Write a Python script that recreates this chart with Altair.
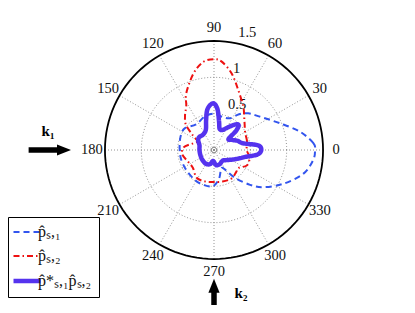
import altair as alt
import pandas as pd
import numpy as np

# ---------------- data (polar: angle in degrees, radius) ----------------
blue_theta = [0, 4, 12, 22, 36, 47, 55, 63, 75, 90, 105, 125, 143, 155, 170, 185, 197, 215,
              238, 253, 268, 280, 292, 300, 307, 316, 323, 334, 345, 354]
blue_r = [1.39, 1.37, 1.21, 0.98, 0.78, 0.69, 0.60, 0.49, 0.47, 0.50, 0.48, 0.43, 0.50, 0.50,
          0.48, 0.47, 0.47, 0.47, 0.49, 0.50, 0.50, 0.40, 0.27, 0.32, 0.48, 0.69, 0.85, 1.06,
          1.27, 1.37]

red_theta = [0, 15, 29, 40, 48, 56, 68, 77, 85, 90, 97, 105, 116, 122, 130, 138, 145, 152,
             162, 175, 188, 205, 220, 238, 255, 270, 285, 302, 315, 324, 335, 348]
red_r = [0.45, 0.47, 0.49, 0.55, 0.62, 0.72, 0.89, 1.08, 1.22, 1.25, 1.22, 1.09, 0.87, 0.72,
         0.62, 0.52, 0.36, 0.26, 0.30, 0.42, 0.44, 0.39, 0.38, 0.45, 0.45, 0.44, 0.45, 0.46,
         0.43, 0.42, 0.50, 0.50]

pur_theta = [0, 6, 13, 21, 30, 37, 41, 45, 50, 58, 67, 75, 80, 85, 90, 95, 100, 105, 112, 125,
             140, 150, 162, 180, 200, 220, 240, 255, 265, 278, 292, 310, 325, 338, 348, 354]
pur_r = [0.65, 0.61, 0.41, 0.35, 0.28, 0.25, 0.40, 0.48, 0.46, 0.37, 0.30, 0.30, 0.40, 0.56,
         0.64, 0.62, 0.55, 0.42, 0.30, 0.26, 0.27, 0.25, 0.21, 0.20, 0.20, 0.21, 0.22, 0.20,
         0.15, 0.21, 0.21, 0.19, 0.24, 0.33, 0.45, 0.60]

series_names = ["p\u0302\u209b,\u2081", "p\u0302\u209b,\u2082", "p\u0302*\u209b,\u2081p\u0302\u209b,\u2082"]
series_colors = ["#3355ee", "#ee1111", "#5533ee"]
series_dash = [[6, 4], [6, 3, 1.5, 3], [1, 0]]
thin_w, thick_w = 2, 4.5

angle_ticks = list(range(0, 360, 30))
angle_labels = [str(a) for a in angle_ticks]
ring_radii = [0.5, 1.0]
ring_labels = ["0.5", "1", "1.5"]
ring_label_r = [0.5, 1.0, 1.5]
rmax = 1.5

# arrows (polar positions of annotation arrows)
arrow_theta = [180, 270]
arrow_tail_r = [2.55, 2.14]
arrow_base_r = [2.14, 1.95]
arrow_head_r = [2.063, 1.866]
arrow_text = ["k\u2081", "k\u2082"]
arrow_text_x = [-2.283, 0.371]
arrow_text_y = [0.261, -1.967]

# ---------------- frame / scales ----------------
W, H = 399, 297
S = 72.7
cx, cy = 206, 142
XMIN, XMAX = -cx / S, (W - cx) / S
YMIN, YMAX = -(H - cy) / S, cy / S
FONT = "Liberation Serif"

xs = alt.Scale(domain=[XMIN, XMAX], nice=False, zero=False)
ys = alt.Scale(domain=[YMIN, YMAX], nice=False, zero=False)
X = alt.X("x:Q", scale=xs, axis=None)
Y = alt.Y("y:Q", scale=ys, axis=None)
XY = dict(x="datum.r*cos(datum.theta*PI/180)", y="datum.r*sin(datum.theta*PI/180)")

# curves
rows = []
for name, th, rr in [(series_names[0], blue_theta, blue_r),
                     (series_names[1], red_theta, red_r),
                     (series_names[2], pur_theta, pur_r)]:
    for i, (t, r) in enumerate(zip(th, rr)):
        rows.append({"series": name, "theta": t, "r": r, "idx": i})
curves = pd.DataFrame(rows)

# grid rings
circ_theta = np.arange(0, 361, 3)
grid_rows = []
for rr in ring_radii:
    for t in circ_theta:
        grid_rows.append({"ring": rr, "theta": float(t), "r": rr})
grid = pd.DataFrame(grid_rows)
outer = pd.DataFrame({"theta": circ_theta.astype(float), "r": rmax})
spokes = pd.DataFrame([{"a": a, "theta": a, "r": r} for a in angle_ticks for r in (0.0, rmax)])
alabels = pd.DataFrame({"theta": angle_ticks, "label": angle_labels, "r": 1.68})
rlabels = pd.DataFrame({"theta": 82, "label": ring_labels, "r": ring_label_r})

grid_layer = alt.Chart(grid).transform_calculate(**XY).mark_line(
    strokeDash=[1, 2], color="#888888", strokeWidth=0.9
).encode(x=X, y=Y, detail="ring:N", order="theta:Q")

spoke_layer = alt.Chart(spokes).transform_calculate(**XY).mark_line(
    strokeDash=[1, 2], color="#888888", strokeWidth=0.9
).encode(x=X, y=Y, detail="a:N", order="r:Q")

outer_layer = alt.Chart(outer).transform_calculate(**XY).mark_line(
    color="black", strokeWidth=1.8
).encode(x=X, y=Y, order="theta:Q")

alab_layer = alt.Chart(alabels).transform_calculate(**XY).mark_text(
    font=FONT, fontSize=14.5, color="#111111", align="center", baseline="middle"
).encode(x=X, y=Y, text="label:N")

rlab_layer = alt.Chart(rlabels).transform_calculate(**XY).mark_text(
    font=FONT, fontSize=14.5, color="#111111", align="left", baseline="middle", dx=9, dy=-9
).encode(x=X, y=Y, text="label:N")

center_layer = alt.Chart(pd.DataFrame({"theta": [0], "r": [0.0]})).transform_calculate(**XY).mark_point(
    shape="circle", size=28, filled=False, color="#444444", strokeWidth=0.8
).encode(x=X, y=Y)

thick_name = series_names[2]
leg = alt.Legend(title=None, orient="none", legendX=0, legendY=209, symbolType="stroke",
                 symbolSize=729, strokeColor="black", fillColor="white", padding=7,
                 labelFont=FONT, labelFontSize=16, labelColor="#111111", rowPadding=8,
                 labelLimit=200, symbolOffset=4, labelOffset=3,
                 symbolStrokeWidth=alt.ExprRef(
                     expr=f"datum.value == '{thick_name}' ? {thick_w} : {thin_w}"))

curve_layer = alt.Chart(curves).transform_calculate(**XY).mark_line(
    interpolate="cardinal-closed"
).encode(
    x=X, y=Y, order="idx:Q",
    color=alt.Color("series:N", scale=alt.Scale(domain=series_names, range=series_colors), legend=leg),
    strokeDash=alt.StrokeDash("series:N", scale=alt.Scale(domain=series_names, range=series_dash), legend=leg),
    strokeWidth=alt.condition(f"datum.series == '{thick_name}'", alt.value(thick_w), alt.value(thin_w)),
)

arrows = pd.DataFrame({"theta": arrow_theta, "r": arrow_tail_r, "r2": arrow_base_r, "rh": arrow_head_r})
shaft_layer = alt.Chart(arrows).transform_calculate(
    x="datum.r*cos(datum.theta*PI/180)", y="datum.r*sin(datum.theta*PI/180)",
    x2="datum.r2*cos(datum.theta*PI/180)", y2="datum.r2*sin(datum.theta*PI/180)"
).mark_rule(color="black", strokeWidth=5.5, strokeCap="butt").encode(
    x=X, y=Y, x2="x2:Q", y2="y2:Q")

head1 = alt.Chart(arrows.iloc[[0]]).transform_calculate(
    x="datum.rh*cos(datum.theta*PI/180)", y="datum.rh*sin(datum.theta*PI/180)"
).mark_point(shape="M-1,-0.8L1,0L-1,0.8Z", size=196, filled=True, color="black", opacity=1
).encode(x=X, y=Y)
head2 = alt.Chart(arrows.iloc[[1]]).transform_calculate(
    x="datum.rh*cos(datum.theta*PI/180)", y="datum.rh*sin(datum.theta*PI/180)"
).mark_point(shape="M-0.8,1L0,-1L0.8,1Z", size=196, filled=True, color="black", opacity=1
).encode(x=X, y=Y)

ktext = alt.Chart(pd.DataFrame({"x": arrow_text_x, "y": arrow_text_y, "label": arrow_text})).mark_text(
    font=FONT, fontSize=15, fontWeight="bold", color="black", align="center", baseline="middle"
).encode(x=X, y=Y, text="label:N")

chart = alt.layer(
    grid_layer, spoke_layer, outer_layer, alab_layer, rlab_layer, center_layer,
    curve_layer, shaft_layer, head1, head2, ktext
).properties(
    width=W, height=H, padding=0, autosize=alt.AutoSizeParams(type="none")
).configure_view(stroke=None)

chart.save("out.html", embed_options={"renderer": "svg", "actions": False})
